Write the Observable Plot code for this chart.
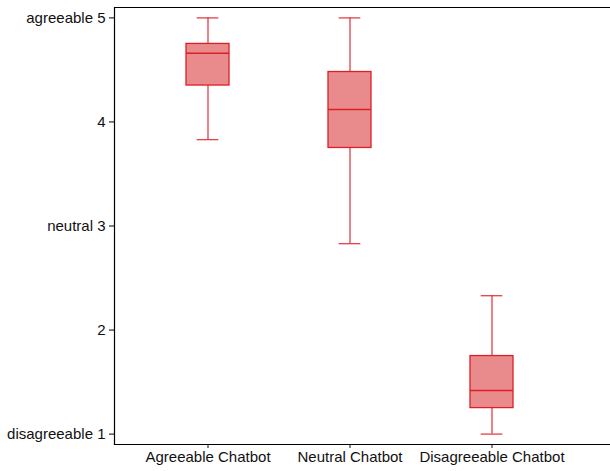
<!DOCTYPE html>
<html>
<head>
<meta charset="utf-8">
<script src="https://cdn.jsdelivr.net/npm/d3@7"></script>
<script src="https://cdn.jsdelivr.net/npm/@observablehq/plot@0.6"></script>
<style>
  body { margin: 0; background: #fff; }
  #chart svg { display: block; }
</style>
</head>
<body>
<div id="chart"></div>
<script>
const categories = ["Agreeable Chatbot", "Neutral Chatbot", "Disagreeable Chatbot"];
const whiskerLow = [3.83, 2.83, 1.0];
const q1 = [4.35, 3.75, 1.25];
const median = [4.66, 4.12, 1.42];
const q3 = [4.75, 4.48, 1.75];
const whiskerHigh = [5.0, 5.0, 2.33];
const yTicks = [1, 2, 3, 4, 5];
const yTickLabels = ["disagreeable 1", "2", "neutral 3", "4", "agreeable 5"];

const rows = categories.map((c, i) => ({
  cat: c, lo: whiskerLow[i], q1: q1[i], med: median[i], q3: q3[i], hi: whiskerHigh[i]
}));

const stroke = "#dd1f27";
const fill = "#e98b8d";

const chart = Plot.plot({
  width: 610,
  height: 471,
  marginLeft: 114,
  marginRight: 0,
  marginTop: 7,
  marginBottom: 27,
  style: { fontFamily: "Liberation Sans, Arial, sans-serif", fontSize: "15px", color: "#111" },
  x: {
    type: "band",
    domain: categories,
    range: [135.65, 563.75],
    paddingInner: 0.7,
    paddingOuter: 0.35,
    label: null
  },
  y: {
    domain: [0.9, 5.1],
    label: null
  },
  marks: [
    Plot.ruleX(rows, { x: "cat", y1: "lo", y2: "q1", stroke, strokeOpacity: 0.85, strokeWidth: 1.3 }),
    Plot.ruleX(rows, { x: "cat", y1: "q3", y2: "hi", stroke, strokeOpacity: 0.85, strokeWidth: 1.3 }),
    Plot.tickY(rows, { x: "cat", y: "lo", stroke, strokeOpacity: 0.85, strokeWidth: 1.3, insetLeft: 10.7, insetRight: 10.7 }),
    Plot.tickY(rows, { x: "cat", y: "hi", stroke, strokeOpacity: 0.85, strokeWidth: 1.3, insetLeft: 10.7, insetRight: 10.7 }),
    Plot.barY(rows, { x: "cat", y1: "q1", y2: "q3", fill, stroke, strokeWidth: 1.3 }),
    Plot.tickY(rows, { x: "cat", y: "med", stroke, strokeWidth: 1.5 }),
    Plot.ruleY([5.1], { stroke: "#000", strokeWidth: 1.2 }),
    Plot.axisY({ ticks: yTicks, tickFormat: (d) => yTickLabels[yTicks.indexOf(d)], tickSize: 5, tickPadding: 4, stroke: "#000" }),
    Plot.axisX({ tickSize: 4, tickPadding: 3 }),
    Plot.frame({ anchor: "left", stroke: "#000", strokeWidth: 1.2 }),
    Plot.frame({ anchor: "bottom", stroke: "#000", strokeWidth: 1.2 })
  ]
});
document.getElementById("chart").appendChild(chart);
</script>
</body>
</html>
